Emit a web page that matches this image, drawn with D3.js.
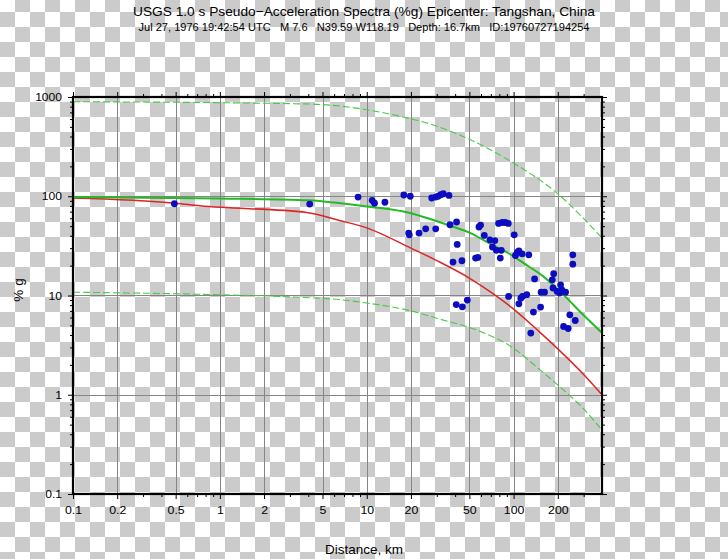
<!DOCTYPE html>
<html><head><meta charset="utf-8">
<script src="https://cdn.jsdelivr.net/npm/d3@7"></script>
<style>
html,body{margin:0;padding:0;background:#fff;}
svg{display:block;font-family:"Liberation Sans",Arial,Helvetica,sans-serif;}
</style></head><body>
<svg id="chart" width="728" height="559"></svg>
<script>
// ---------- data ----------
const titleText = "USGS 1.0 s Pseudo\u2212Acceleration Spectra (%g) Epicenter: Tangshan, China";
const subtitleText = "Jul 27, 1976 19:42:54 UTC   M 7.6   N39.59 W118.19   Depth: 16.7km   ID:19760727194254";
const xAxisTitle = "Distance, km";
const yAxisTitle = "% g";

const xTickValues = [0.1, 0.2, 0.5, 1, 2, 5, 10, 20, 50, 100, 200];
const xTickLabels = ["0.1", "0.2", "0.5", "1", "2", "5", "10", "20", "50", "100", "200"];
const yTickValues = [0.1, 1, 10, 100, 1000];
const yTickLabels = ["0.1", "1", "10", "100", "1000"];
const xGridValues = [0.2, 0.5, 1, 2, 5, 10, 20, 50, 100, 200];
const yGridValues = [1, 10, 100];

// median ground-motion curve (green solid)
const medianDist = [0.1, 1, 4, 6, 10, 20, 27, 37, 50, 68, 93, 117, 160, 218, 298, 400];
const medianVal  = [98, 95, 91, 86.5, 79, 67.5, 59, 50.5, 43, 33.7, 26.5, 21.2, 15.5, 10.2, 6.4, 4.2];
// upper bound (green dashed)
const upperDist = [0.1, 4, 10, 17, 28, 48, 100, 194, 400];
const upperVal  = [897, 850, 745, 637, 526, 386, 216, 110, 38];
// lower bound (green dashed)
const lowerDist = [0.1, 0.7, 2.5, 4, 6.5, 10, 20, 30, 58, 98, 150, 200, 300, 400];
const lowerVal  = [10.8, 10.3, 9.8, 9.5, 9.1, 8.4, 7.0, 5.9, 4.4, 3.0, 1.8, 1.25, 0.72, 0.44];
// second model (red)
const redDist = [0.1, 0.5, 0.73, 3.9, 6.5, 10, 20, 30, 50, 70, 100, 150, 200, 300, 400];
const redVal  = [96, 85, 80, 68.7, 57, 48, 30, 22.5, 15, 10.8, 7.3, 4.3, 2.9, 1.6, 1.0];

// station observations (blue dots)
const obsDist = [0.49, 4.09, 8.73, 10.9, 11.3, 13.3, 17.9, 19.8,
  27.7, 29.4, 30.6, 31.9, 33.2, 36.3,
  19.3, 19.5, 22.7, 25.2, 29.5, 36.9, 40.9, 41.3,
  38.7, 44.5, 55.1, 57.1, 58.1, 59.6, 63.2,
  69.0, 74.5, 71.8, 76.3, 82.5, 81.2,
  79, 83.7, 87.8, 92, 101, 103, 106, 108.7, 114.4, 127,
  92.5, 108.7, 112, 115, 123,
  40.7, 44.8, 48.4,
  139, 136.5, 152.7, 131, 154, 162.5,
  183.4, 187.5, 185.5, 198, 209, 206, 226, 213,
  253, 253, 241.5, 263, 219, 235.5];
const obsVal = [84, 83.4, 98, 91, 85, 87, 103, 100,
  96, 98, 100, 103.5, 106, 102,
  42.6, 40.9, 42.6, 47, 47, 51.6, 55, 32.7,
  21.7, 22.4, 23.8, 24.2, 49, 51.2, 40.3,
  36.4, 35.8, 30.8, 28.5, 28.5, 23.8,
  53.2, 54.4, 54.4, 53.2, 40.9, 25.3, 27.2, 28.2, 26.3, 25.7,
  9.78, 8.24, 9.4, 9.78, 10.2,
  8.11, 7.69, 9.0,
  14.7, 6.81, 7.64, 4.18, 10.8, 10.8,
  14.4, 16.6, 11.9, 11, 12.8, 10.6, 10.8, 11.4,
  25.7, 20.7, 6.39, 5.6, 4.87, 4.65];

// ---------- drawing ----------
(function () {
const svg = d3.select("#chart");
const W = 728, H = 559;
const pL = 73, pR = 602, pT = 97, pB = 494;

const defs = svg.append("defs");
const pat = defs.append("pattern").attr("id", "chk")
  .attr("patternUnits", "userSpaceOnUse").attr("x", 0).attr("y", 12)
  .attr("width", 30).attr("height", 30);
pat.append("rect").attr("width", 30).attr("height", 30).attr("fill", "#ffffff");
pat.append("rect").attr("x", 0).attr("y", 0).attr("width", 15).attr("height", 15).attr("fill", "#cbcbcb");
pat.append("rect").attr("x", 15).attr("y", 15).attr("width", 15).attr("height", 15).attr("fill", "#cbcbcb");
svg.append("rect").attr("width", W).attr("height", H).attr("fill", "url(#chk)");

const x = d3.scaleLog().domain([0.1, 400]).range([pL, pR]);
const y = d3.scaleLog().domain([0.1, 1000]).range([pB, pT]);

defs.append("clipPath").attr("id", "plotclip").append("rect")
  .attr("x", pL).attr("y", pT).attr("width", pR - pL).attr("height", pB - pT);

// grid
const grid = svg.append("g").attr("stroke", "#858585").attr("stroke-width", 1);
grid.selectAll("line.gx").data(xGridValues).join("line").attr("class", "gx")
  .attr("x1", d => Math.round(x(d)) + 0.5).attr("x2", d => Math.round(x(d)) + 0.5)
  .attr("y1", pT).attr("y2", pB);
grid.selectAll("line.gy").data(yGridValues).join("line").attr("class", "gy")
  .attr("y1", d => Math.round(y(d)) + 0.5).attr("y2", d => Math.round(y(d)) + 0.5)
  .attr("x1", pL).attr("x2", pR);

// curves
const plot = svg.append("g").attr("clip-path", "url(#plotclip)");
const line = d3.line().x(d => x(d[0])).y(d => y(d[1])).curve(d3.curveMonotoneX);
const zipD = (a, b) => a.map((v, i) => [v, b[i]]);

plot.append("path").datum(zipD(upperDist, upperVal)).attr("d", line)
  .attr("fill", "none").attr("stroke", "#44cc44").attr("stroke-width", 1.1).attr("stroke-dasharray", "7,3");
plot.append("path").datum(zipD(lowerDist, lowerVal)).attr("d", line)
  .attr("fill", "none").attr("stroke", "#44cc44").attr("stroke-width", 1.1).attr("stroke-dasharray", "7,3");
plot.append("path").datum(zipD(redDist, redVal)).attr("d", line)
  .attr("fill", "none").attr("stroke", "#e02424").attr("stroke-width", 1.5);
plot.append("path").datum(zipD(medianDist, medianVal)).attr("d", line)
  .attr("fill", "none").attr("stroke", "#22bb22").attr("stroke-width", 2);

// observations
plot.selectAll("circle").data(zipD(obsDist, obsVal)).join("circle")
  .attr("cx", d => x(d[0])).attr("cy", d => y(d[1])).attr("r", 3.4)
  .attr("fill", "#0c0cc0");

// axes
const xMinor = x.ticks().filter(v => !xTickValues.some(t => Math.abs(t - v) < 1e-9) && v < 400);
const yMinor = y.ticks().filter(v => !yTickValues.some(t => Math.abs(t - v) < 1e-9));
const fmtX = d => xTickLabels[xTickValues.indexOf(d)];
const fmtY = d => yTickLabels[yTickValues.indexOf(d)];

function styleAxis(g) {
  g.select(".domain").remove();
  g.selectAll(".tick line").attr("stroke", "#000").attr("stroke-width", 1);
  g.selectAll("text").attr("fill", "#000").attr("font-size", 11)
    .attr("font-family", "'Liberation Sans', Arial, sans-serif");
}

svg.append("g").attr("transform", `translate(0,${pB})`)
  .call(d3.axisBottom(x).tickValues(xTickValues).tickFormat(fmtX).tickSize(5).tickPadding(7))
  .call(styleAxis)
  .call(g => g.selectAll("text").attr("transform", "scale(1.12,1)"));
svg.append("g").attr("transform", `translate(0,${pB})`)
  .call(d3.axisBottom(x).tickValues(xMinor).tickFormat("").tickSize(3)).call(styleAxis);
svg.append("g").attr("transform", `translate(0,${pT})`)
  .call(d3.axisTop(x).tickValues(xTickValues).tickFormat("").tickSize(5)).call(styleAxis);
svg.append("g").attr("transform", `translate(0,${pT})`)
  .call(d3.axisTop(x).tickValues(xMinor).tickFormat("").tickSize(3)).call(styleAxis);

svg.append("g").attr("transform", `translate(${pL},0)`)
  .call(d3.axisLeft(y).tickValues(yTickValues).tickFormat(fmtY).tickSize(5).tickPadding(5))
  .call(styleAxis)
  .call(g => g.selectAll("text").attr("x", -10).attr("transform", "scale(1.1,1)"));
svg.append("g").attr("transform", `translate(${pL},0)`)
  .call(d3.axisLeft(y).tickValues(yMinor).tickFormat("").tickSize(3)).call(styleAxis);
svg.append("g").attr("transform", `translate(${pR},0)`)
  .call(d3.axisRight(y).tickValues(yTickValues).tickFormat("").tickSize(5)).call(styleAxis);
svg.append("g").attr("transform", `translate(${pR},0)`)
  .call(d3.axisRight(y).tickValues(yMinor).tickFormat("").tickSize(3)).call(styleAxis);

// frame
svg.append("rect").attr("x", pL).attr("y", pT).attr("width", pR - pL).attr("height", pB - pT)
  .attr("fill", "none").attr("stroke", "#000").attr("stroke-width", 2.2);

// titles
svg.append("text").attr("x", 364).attr("y", 16).attr("text-anchor", "middle")
  .attr("font-size", 13).attr("textLength", 462).attr("lengthAdjust", "spacingAndGlyphs")
  .attr("fill", "#000").text(titleText);
svg.append("text").attr("x", 364).attr("y", 31).attr("text-anchor", "middle")
  .attr("font-size", 10).attr("textLength", 451).attr("lengthAdjust", "spacingAndGlyphs")
  .style("white-space", "pre")
  .attr("fill", "#000").text(subtitleText);
svg.append("text").attr("x", 364).attr("y", 554).attr("text-anchor", "middle")
  .attr("font-size", 13.5).attr("fill", "#000").text(xAxisTitle);
svg.append("text").attr("transform", "translate(23,290) rotate(-90)").attr("text-anchor", "middle")
  .attr("font-size", 13.5).attr("fill", "#000").text(yAxisTitle);
})();
</script>
</body></html>
